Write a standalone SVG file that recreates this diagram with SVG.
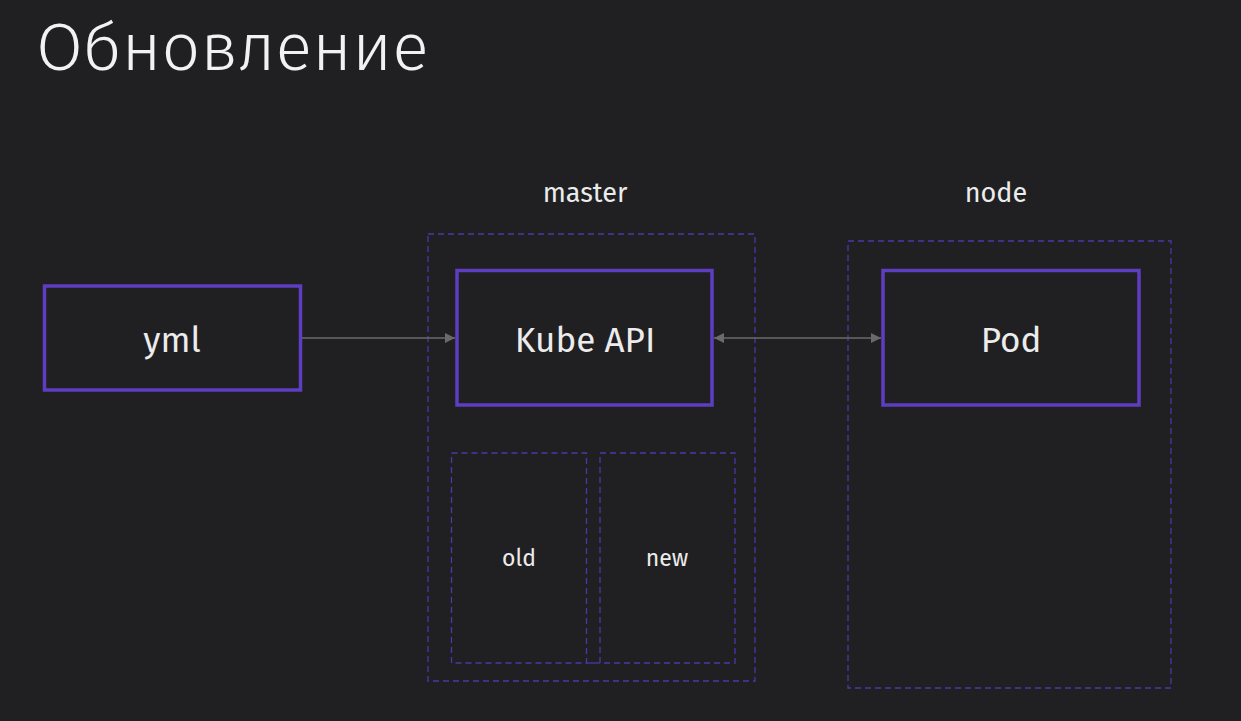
<svg xmlns="http://www.w3.org/2000/svg" width="1241" height="721" viewBox="0 0 1241 721">
<style>
.node{fill:none;stroke:#5d3ec0;stroke-width:3.5}
.grp{fill:none;stroke:#4e35a8;stroke-width:1.3;stroke-dasharray:6 4}
.lbl{font-family:"Fira Sans","Open Sans","Noto Sans",sans-serif;fill:#ececec;text-anchor:middle}
.edge{stroke:#6a6a6a;stroke-width:1.5;fill:none}
</style>
<defs>
<marker id="ah" viewBox="0 0 10 10" refX="10" refY="5" markerWidth="10" markerHeight="10" markerUnits="userSpaceOnUse" orient="auto-start-reverse">
<path d="M0,0 L10,5 L0,10 z" fill="#6a6a6a"/>
</marker>
</defs>
<rect width="1241" height="721" fill="#202023"/>
<text x="36" y="70" font-family="Fira Sans, Open Sans, Noto Sans, sans-serif" font-weight="300" font-size="68" fill="#f2f2f2">Обновление</text>
<g id="master">
<rect class="grp" x="428" y="234" width="327" height="447"/>
<text class="lbl" x="585" y="202" font-size="27">master</text>
</g>
<g id="node">
<rect class="grp" x="848" y="241" width="323" height="447"/>
<text class="lbl" x="996" y="202" font-size="27">node</text>
</g>
<g id="old">
<rect class="grp" x="451.5" y="453" width="135" height="210"/>
<text class="lbl" x="519" y="566" font-size="23">old</text>
</g>
<g id="new">
<rect class="grp" x="600" y="453" width="135" height="210"/>
<text class="lbl" x="667" y="566" font-size="23">new</text>
</g>
<g id="yml">
<rect class="node" x="44.5" y="286" width="256" height="104"/>
<text class="lbl" x="172" y="352" font-size="35">yml</text>
</g>
<g id="kubeapi">
<rect class="node" x="457" y="270.5" width="255" height="134.5"/>
<text class="lbl" x="585" y="352" font-size="35">Kube API</text>
</g>
<g id="pod">
<rect class="node" x="883" y="270.5" width="256" height="134.5"/>
<text class="lbl" x="1011" y="352" font-size="35">Pod</text>
</g>
<g id="connectors">
<line class="edge" x1="302" y1="338" x2="455" y2="338" marker-end="url(#ah)"/>
<line class="edge" x1="714" y1="338" x2="881" y2="338" marker-start="url(#ah)" marker-end="url(#ah)"/>
<line x1="586" y1="663" x2="600" y2="663" stroke="#4e35a8" stroke-width="1.3"/>
</g>
</svg>
